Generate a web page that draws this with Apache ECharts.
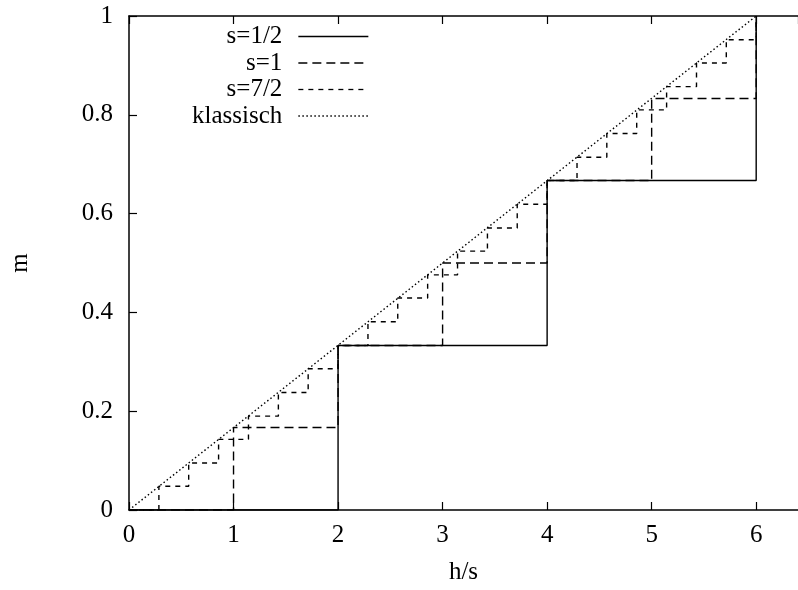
<!DOCTYPE html>
<html>
<head>
<meta charset="utf-8">
<script src="https://cdn.jsdelivr.net/npm/echarts@6/dist/echarts.min.js"></script>
<style>
  html, body { margin: 0; padding: 0; background: #fff; }
  #chart { width: 798px; height: 590px; }
</style>
</head>
<body>
<div id="chart"></div>
<script>
// h/s values where each staircase jumps, and the m level after the jump
var halfX = [0, 2, 4, 6];
var halfM = [0, 0.333, 0.667, 1];
var oneX = [0, 1, 2, 3, 4, 5, 6];
var oneM = [0, 0.167, 0.333, 0.5, 0.667, 0.833, 1];
var sevenX = [0, 0.286, 0.571, 0.857, 1.143, 1.429, 1.714, 2, 2.286, 2.571, 2.857,
              3.143, 3.429, 3.714, 4, 4.286, 4.571, 4.857, 5.143, 5.429, 5.714, 6];
var sevenM = [0, 0.048, 0.095, 0.143, 0.190, 0.238, 0.286, 0.333, 0.381, 0.429, 0.476,
              0.524, 0.571, 0.619, 0.667, 0.714, 0.762, 0.810, 0.857, 0.905, 0.952, 1];
var classX = [0, 6];
var classM = [0, 1];

var xTicks = [0, 1, 2, 3, 4, 5, 6];
var yTicks = [0, 0.2, 0.4, 0.6, 0.8, 1];
var legendNames = ['s=1/2', 's=1', 's=7/2', 'klassisch'];

var FONT = '"Liberation Serif", "DejaVu Serif", serif';

function pairs(xs, ys) {
    var out = [];
    for (var i = 0; i < xs.length; i++) {
        out.push([xs[i], ys[i]]);
    }
    return out;
}

function lineSeries(name, data, dash, step) {
    return {
        name: name,
        type: 'line',
        step: step ? 'end' : false,
        symbol: 'none',
        animation: false,
        data: data,
        lineStyle: { color: '#000', width: 1.4, type: dash },
        itemStyle: { color: '#000' }
    };
}

var chart = echarts.init(document.getElementById('chart'));
chart.setOption({
    backgroundColor: '#fff',
    animation: false,
    grid: { left: 124, right: 0, top: 16, bottom: 80 },
    legend: {
        orient: 'vertical',
        align: 'right',
        right: 429,
        top: 23.5,
        padding: 0,
        itemWidth: 70,
        itemHeight: 10,
        itemGap: 0.5,
        data: legendNames,
        // hide the symbol drawn on the legend line sample
        itemStyle: { opacity: 0, color: 'rgba(0,0,0,0)', borderWidth: 0 },
        lineStyle: { width: 1.3 },
        textStyle: {
            fontFamily: FONT, fontSize: 25, color: '#000',
            lineHeight: 26, padding: [0, 11, 0, 0]
        }
    },
    xAxis: [
        {
            type: 'value', min: 0, max: 6.4, interval: 1,
            name: 'h/s', nameLocation: 'middle', nameGap: 50,
            nameTextStyle: { fontFamily: FONT, fontSize: 25, color: '#000' },
            axisLine: { lineStyle: { color: '#000', width: 1.5 } },
            axisTick: { inside: true, length: 8, lineStyle: { color: '#000', width: 1.2 } },
            axisLabel: {
                fontFamily: FONT, fontSize: 25, color: '#000', margin: 13,
                showMaxLabel: false,
                formatter: function (v) { return xTicks.indexOf(v) >= 0 ? String(v) : ''; }
            },
            splitLine: { show: false }
        },
        {
            type: 'value', min: 0, max: 6.4, interval: 1, position: 'top',
            axisLine: { lineStyle: { color: '#000', width: 1.5 } },
            axisTick: { inside: true, length: 8, lineStyle: { color: '#000', width: 1.2 } },
            axisLabel: { show: false },
            splitLine: { show: false }
        }
    ],
    yAxis: {
        type: 'value', min: 0, max: 1, interval: 0.2,
        name: 'm', nameLocation: 'middle', nameRotate: 90, nameGap: 96,
        nameTextStyle: { fontFamily: FONT, fontSize: 25, color: '#000' },
        axisLine: { show: true, lineStyle: { color: '#000', width: 1.5 } },
        axisTick: { show: true, inside: true, length: 8, lineStyle: { color: '#000', width: 1.2 } },
        axisLabel: {
            fontFamily: FONT, fontSize: 25, color: '#000', margin: 16,
            formatter: function (v) { return String(Math.round(v * 10) / 10); }
        },
        splitLine: { show: false }
    },
    series: [
        lineSeries(legendNames[0], pairs(halfX, halfM), 'solid', true),
        lineSeries(legendNames[1], pairs(oneX, oneM), [9, 5], true),
        lineSeries(legendNames[2], pairs(sevenX, sevenM), [5, 5], true),
        lineSeries(legendNames[3], pairs(classX, classM), [1.5, 2.5], false)
    ]
});
</script>
</body>
</html>
